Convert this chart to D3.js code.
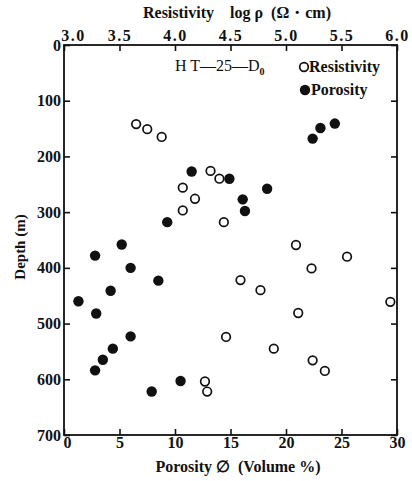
<!DOCTYPE html>
<html>
<head>
<meta charset="utf-8">
<script src="https://cdn.jsdelivr.net/npm/d3@7"></script>
<style>
body { margin: 0; background: #fff; }
text { font-family: "Liberation Serif", "DejaVu Serif", serif; fill: #111; }
</style>
</head>
<body>
<div id="chart"></div>
<script>
// resistivity (log rho, top axis) vs depth
const resDepth = [142, 151, 165, 226, 240, 256, 276, 297, 318, 359, 380, 401, 422, 440, 461, 481, 524, 545, 566, 585, 604, 622];
const resLog   = [3.65, 3.75, 3.88, 4.32, 4.40, 4.07, 4.18, 4.07, 4.44, 5.09, 5.55, 5.23, 4.59, 4.77, 5.94, 5.11, 4.46, 4.89, 5.24, 5.35, 4.27, 4.29];

// porosity (volume %, bottom axis) vs depth
const porDepth = [141, 149, 168, 227, 240, 258, 277, 298, 318, 358, 378, 400, 423, 441, 460, 482, 523, 545, 565, 584, 603, 622];
const porVal   = [24.4, 23.1, 22.4, 11.5, 14.9, 18.3, 16.1, 16.3, 9.3, 5.2, 2.8, 6.0, 8.5, 4.2, 1.3, 2.9, 6.0, 4.4, 3.5, 2.8, 10.5, 7.9];

const depthTicks = [0, 100, 200, 300, 400, 500, 600, 700];
const porTicks = [0, 5, 10, 15, 20, 25, 30];
const resTicks = [3.0, 3.5, 4.0, 4.5, 5.0, 5.5, 6.0];

const width = 412, height = 481;
const margin = { top: 45, right: 15, bottom: 46, left: 64 };
const w = width - margin.left - margin.right;
const h = height - margin.top - margin.bottom;

const svg = d3.select("#chart").append("svg")
    .attr("width", width)
    .attr("height", height);

const g = svg.append("g")
    .attr("transform", `translate(${margin.left},${margin.top})`);

const x = d3.scaleLinear().domain([0, 30]).range([0, w]);
const xTop = d3.scaleLinear().domain([3, 6]).range([0, w]);
const y = d3.scaleLinear().domain([0, 700]).range([0, h]);

function styleAxis(sel) {
    sel.select(".domain").remove();
    sel.selectAll(".tick line").attr("stroke", "#111").attr("stroke-width", 1.6);
    sel.selectAll(".tick text")
        .style("font-size", "16px")
        .style("font-weight", "bold")
        .attr("fill", "#111");
}

// bottom
g.append("g")
    .attr("transform", `translate(0,${h})`)
    .call(d3.axisBottom(x).tickValues(porTicks).tickSize(-6).tickPadding(2).tickFormat(d3.format("d")))
    .call(styleAxis)
    .call(s => s.selectAll(".tick text").filter(d => d === 0).attr("dx", 3));

// top
g.append("g")
    .call(d3.axisTop(xTop).tickValues(resTicks).tickSize(-6).tickPadding(4).tickFormat(d3.format(".1f")))
    .call(styleAxis)
    .call(s => s.selectAll(".tick text").style("letter-spacing", "1.5px"))
    .call(s => s.selectAll(".tick text").filter(d => d === 3).attr("dx", 9));

// left
g.append("g")
    .call(d3.axisLeft(y).tickValues(depthTicks).tickSize(-6).tickPadding(3).tickFormat(d3.format("d")))
    .call(styleAxis);

// right
g.append("g")
    .attr("transform", `translate(${w},0)`)
    .call(d3.axisRight(y).tickValues(depthTicks).tickSize(-6).tickFormat(""))
    .call(styleAxis);

// frame
g.append("rect")
    .attr("width", w).attr("height", h)
    .attr("fill", "none").attr("stroke", "#111").attr("stroke-width", 1.8);

// points
g.selectAll("circle.res")
    .data(resDepth.map((d, i) => [resLog[i], d]))
    .enter().append("circle")
    .attr("class", "res")
    .attr("cx", d => xTop(d[0]))
    .attr("cy", d => y(d[1]))
    .attr("r", 4.3)
    .attr("fill", "#fff")
    .attr("stroke", "#111")
    .attr("stroke-width", 1.7);

g.selectAll("circle.por")
    .data(porDepth.map((d, i) => [porVal[i], d]))
    .enter().append("circle")
    .attr("class", "por")
    .attr("cx", d => x(d[0]))
    .attr("cy", d => y(d[1]))
    .attr("r", 5.2)
    .attr("fill", "#111");

// label + legend
const lab = svg.append("text")
    .attr("x", 175).attr("y", 71)
    .style("font-size", "16px");
lab.append("tspan").text("H T\u201425\u2014D");
lab.append("tspan").attr("dy", 4).style("font-size", "10px").style("font-weight", "bold").text("0");

svg.append("circle").attr("cx", 304).attr("cy", 67).attr("r", 4.3)
    .attr("fill", "#fff").attr("stroke", "#111").attr("stroke-width", 1.7);
svg.append("text").attr("x", 309).attr("y", 72)
    .style("font-size", "16px").style("font-weight", "bold").text("Resistivity");
svg.append("circle").attr("cx", 305).attr("cy", 90).attr("r", 5.2).attr("fill", "#111");
svg.append("text").attr("x", 311).attr("y", 95)
    .style("font-size", "16px").style("font-weight", "bold").text("Porosity");

// axis titles
svg.append("text")
    .attr("x", 237).attr("y", 18)
    .attr("text-anchor", "middle")
    .style("font-size", "16px").style("font-weight", "bold")
    .text("Resistivity\u2003log \u03c1\u2002(\u03a9\u30fbcm)");

svg.append("text")
    .attr("x", 238).attr("y", 472)
    .attr("text-anchor", "middle")
    .style("font-size", "16px").style("font-weight", "bold")
    .text("Porosity \u2205\u2002(Volume %)");

svg.append("text")
    .attr("transform", "translate(25,247) rotate(-90)")
    .attr("text-anchor", "middle")
    .style("font-size", "15px").style("font-weight", "bold")
    .text("Depth (m)");
</script>
</body>
</html>
